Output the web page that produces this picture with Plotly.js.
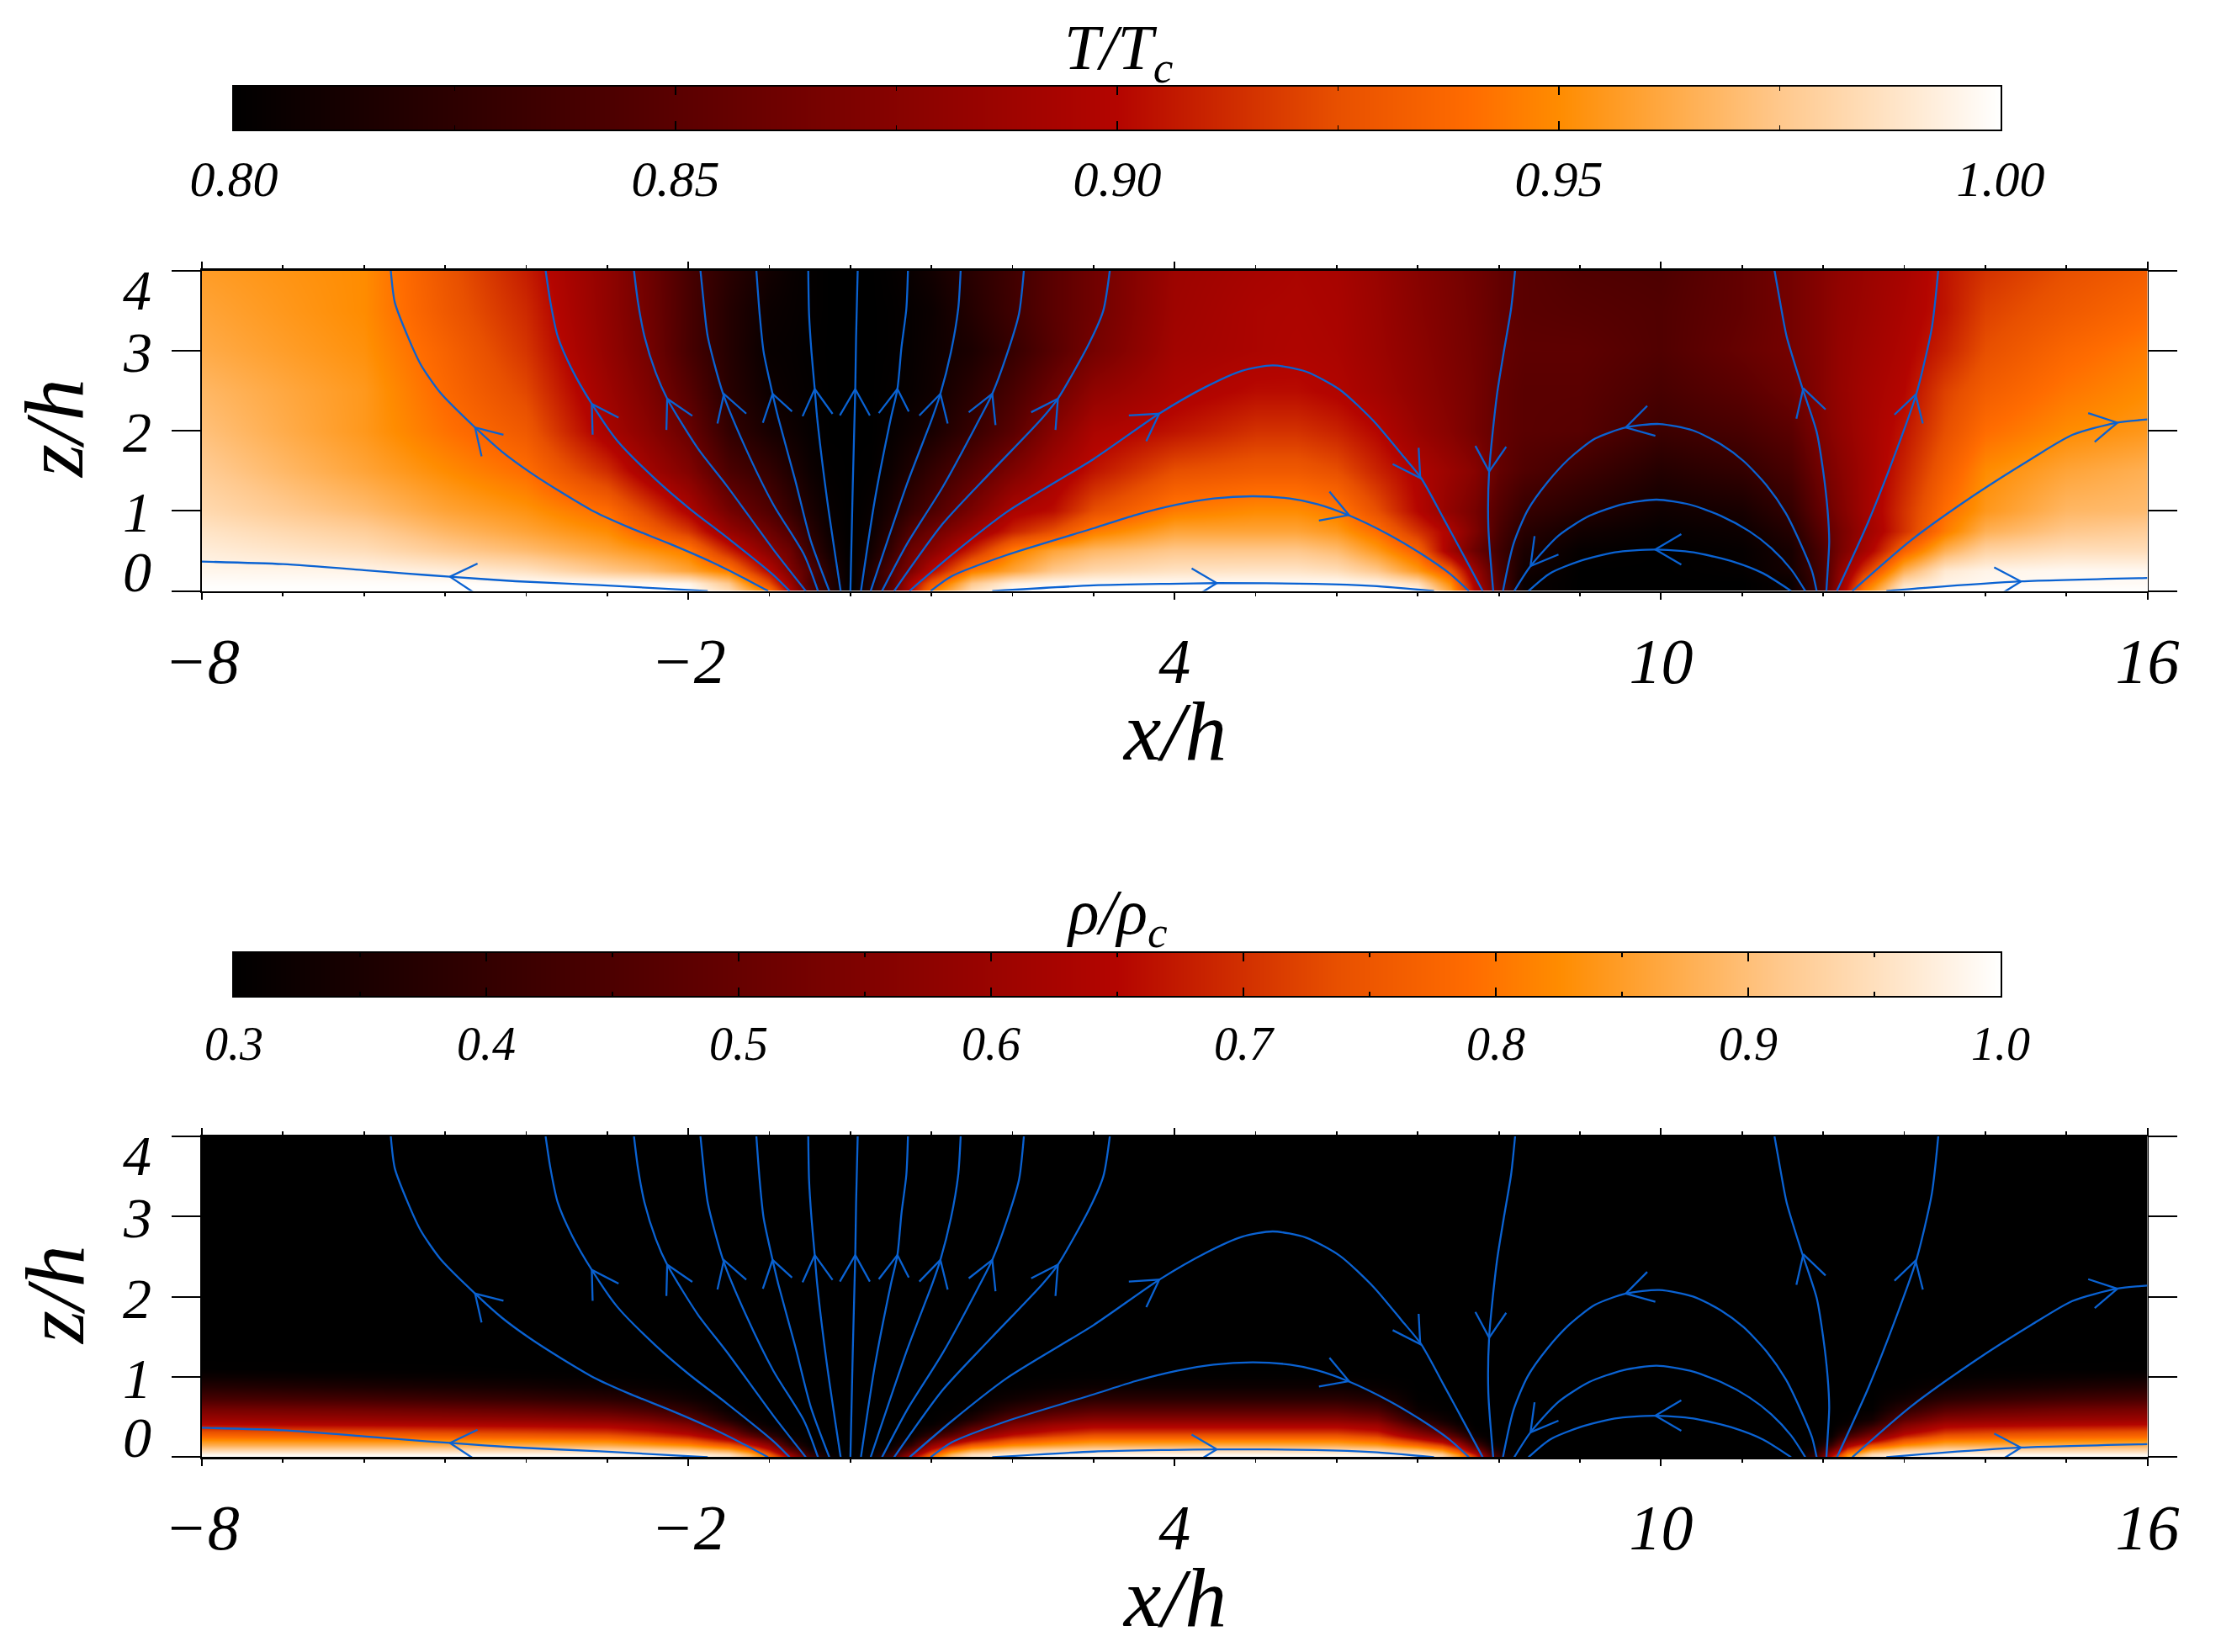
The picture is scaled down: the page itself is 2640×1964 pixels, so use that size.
<!DOCTYPE html>
<html><head><meta charset="utf-8">
<script src="https://cdn.plot.ly/plotly-3.0.1.min.js"></script>
<style>html,body{margin:0;padding:0;background:#fff}</style></head>
<body><div id="chart" style="width:2640px;height:1964px"></div>
<script>
// ---------- temperature field ----------
const xT=[-8,-6,-5,-4,-3,-2.5,-2,-1.5,-1,-.75,-.5,-.25,0,.25,.5,.75,1,1.5,2,2.5,3,4,5,5.5,6,6.5,7,7.4,7.7,8,8.3,9,10,11,11.6,12,12.2,12.5,13,13.5,14,15,16];
const zT=[0,.1,.25,.5,.75,1,1.5,2,2.5,3,3.5,4];
const tempRows=[
[1,1,1,1,1,1,1,.985,.945,.895,.845,.82,.80,.82,.85,.9,.945,.985,1,1,1,1,1,1,1,1,.998,.96,.90,.85,.805,.80,.80,.80,.805,.84,.885,.945,.995,1,1,1,1],
[.999,.999,.999,.999,.998,.997,.995,.975,.925,.885,.84,.82,.80,.818,.845,.895,.93,.975,.993,.997,.998,.998,.998,.998,.998,.995,.985,.95,.895,.845,.805,.80,.80,.80,.805,.84,.88,.935,.985,.995,.997,.998,.998],
[.996,.995,.992,.987,.975,.97,.96,.945,.90,.87,.845,.818,.80,.818,.845,.87,.90,.945,.96,.975,.982,.987,.988,.988,.985,.975,.955,.93,.885,.84,.81,.80,.80,.802,.812,.84,.875,.915,.965,.99,.995,.997,.997],
[.992,.985,.977,.97,.96,.953,.945,.91,.875,.86,.83,.81,.80,.81,.83,.86,.875,.91,.945,.96,.968,.975,.975,.975,.97,.955,.935,.89,.86,.835,.815,.803,.80,.803,.813,.843,.865,.89,.935,.965,.98,.985,.985],
[.988,.978,.968,.96,.95,.935,.917,.883,.86,.845,.822,.806,.80,.806,.822,.845,.86,.885,.91,.925,.945,.96,.96,.96,.955,.94,.915,.895,.87,.84,.822,.81,.803,.807,.82,.85,.865,.885,.915,.945,.965,.975,.978],
[.983,.97,.96,.953,.94,.92,.897,.865,.845,.83,.815,.804,.80,.804,.815,.83,.842,.868,.895,.903,.925,.945,.95,.95,.945,.925,.90,.88,.866,.845,.83,.82,.808,.813,.828,.857,.87,.888,.915,.94,.955,.968,.97],
[.977,.96,.95,.94,.913,.89,.872,.842,.828,.817,.807,.801,.80,.801,.807,.817,.828,.848,.87,.89,.905,.925,.93,.93,.925,.91,.897,.885,.875,.855,.845,.835,.82,.828,.84,.865,.875,.888,.91,.932,.95,.96,.965],
[.972,.955,.942,.93,.893,.877,.858,.828,.813,.808,.803,.80,.80,.80,.803,.808,.813,.83,.85,.875,.895,.905,.915,.915,.91,.90,.885,.875,.865,.855,.85,.848,.833,.84,.85,.872,.88,.89,.905,.925,.94,.95,.955],
[.968,.955,.938,.922,.887,.87,.848,.822,.807,.804,.802,.80,.80,.80,.802,.804,.808,.822,.84,.86,.88,.895,.902,.902,.898,.89,.88,.872,.865,.855,.85,.85,.84,.85,.86,.875,.882,.89,.90,.92,.932,.943,.95],
[.963,.952,.935,.916,.882,.865,.84,.82,.804,.803,.801,.80,.80,.80,.801,.803,.807,.815,.83,.848,.865,.89,.895,.897,.895,.887,.878,.87,.864,.856,.852,.852,.845,.857,.865,.875,.882,.888,.897,.91,.925,.937,.945],
[.96,.95,.93,.912,.88,.863,.84,.82,.806,.804,.802,.80,.80,.80,.801,.803,.806,.82,.835,.85,.862,.888,.895,.896,.894,.886,.876,.869,.863,.855,.85,.848,.845,.855,.865,.875,.881,.886,.895,.905,.92,.93,.938],
[.957,.95,.928,.908,.88,.862,.84,.823,.81,.805,.802,.80,.80,.80,.802,.805,.81,.823,.836,.85,.862,.887,.893,.895,.893,.885,.875,.868,.862,.855,.85,.845,.843,.855,.865,.875,.88,.885,.893,.905,.915,.925,.932]
];
// ---------- density field ----------
const xR=[-8,-6,-4,-3,-2.5,-2,-1.5,-1.25,-1,-.75,-.5,-.25,0,.25,.5,.75,1,1.25,1.5,2,2.5,3,6,6.5,7,7.3,7.5,7.7,7.9,8.1,8.3,11.7,11.9,12.1,12.3,12.6,13,13.5,14,15,16];
const zR=[0,.04,.1,.15,.2,.27,.33,.41,.48,.59,.73,.87,1,1.1,1.25,4];
const densRows=[
[1,1,1,1,1,.995,.97,.91,.80,.64,.44,.33,.30,.33,.44,.64,.80,.91,.97,.995,1,1,1,1,.99,.95,.86,.72,.5,.34,.3,.3,.42,.68,.86,.97,.995,1,1,1,1],
[.985,.985,.985,.985,.983,.975,.945,.88,.76,.58,.39,.31,.3,.31,.39,.58,.76,.88,.945,.975,.983,.985,.985,.983,.96,.92,.83,.67,.44,.32,.3,.3,.37,.62,.82,.94,.975,.985,.985,.985,.985],
[.925,.925,.927,.93,.92,.90,.85,.78,.66,.47,.33,.302,.3,.302,.33,.47,.66,.78,.85,.90,.92,.93,.93,.92,.875,.82,.72,.54,.365,.303,.3,.3,.325,.50,.71,.84,.90,.93,.927,.925,.925],
[.875,.875,.872,.87,.85,.825,.76,.68,.58,.39,.308,.3,.3,.3,.308,.39,.58,.68,.76,.825,.85,.87,.87,.85,.785,.72,.63,.45,.325,.3,.3,.3,.306,.41,.62,.74,.825,.87,.872,.875,.875],
[.835,.83,.825,.82,.795,.76,.67,.6,.5,.345,.301,.3,.3,.3,.301,.345,.5,.6,.67,.76,.795,.82,.82,.795,.70,.63,.54,.38,.306,.3,.3,.3,.3,.355,.53,.64,.76,.82,.825,.83,.835],
[.78,.77,.76,.75,.72,.675,.58,.49,.4,.312,.3,.3,.3,.3,.3,.312,.4,.49,.58,.675,.72,.75,.75,.72,.60,.53,.44,.325,.3,.3,.3,.3,.3,.315,.43,.55,.675,.75,.76,.77,.78],
[.73,.72,.705,.69,.66,.61,.51,.41,.345,.303,.3,.3,.3,.3,.3,.303,.345,.41,.51,.61,.66,.69,.69,.66,.53,.45,.37,.306,.3,.3,.3,.3,.3,.304,.365,.47,.61,.69,.705,.72,.73],
[.65,.64,.63,.62,.595,.54,.42,.345,.31,.3,.3,.3,.3,.3,.3,.3,.31,.345,.42,.54,.595,.62,.62,.595,.44,.37,.325,.3,.3,.3,.3,.3,.3,.3,.32,.385,.54,.62,.63,.64,.65],
[.60,.59,.575,.56,.53,.475,.36,.315,.302,.3,.3,.3,.3,.3,.3,.3,.302,.315,.36,.475,.53,.56,.56,.53,.375,.33,.306,.3,.3,.3,.3,.3,.3,.3,.305,.335,.475,.56,.575,.59,.60],
[.535,.52,.495,.47,.44,.39,.315,.303,.3,.3,.3,.3,.3,.3,.3,.3,.3,.303,.315,.39,.44,.47,.47,.44,.32,.305,.3,.3,.3,.3,.3,.3,.3,.3,.3,.305,.39,.47,.495,.52,.535],
[.44,.425,.40,.38,.36,.33,.302,.3,.3,.3,.3,.3,.3,.3,.3,.3,.3,.3,.302,.33,.36,.38,.38,.36,.303,.3,.3,.3,.3,.3,.3,.3,.3,.3,.3,.3,.33,.38,.40,.425,.44],
[.37,.355,.34,.325,.315,.305,.3,.3,.3,.3,.3,.3,.3,.3,.3,.3,.3,.3,.3,.305,.315,.325,.325,.315,.3,.3,.3,.3,.3,.3,.3,.3,.3,.3,.3,.3,.305,.325,.34,.355,.37],
[.325,.318,.31,.305,.302,.3,.3,.3,.3,.3,.3,.3,.3,.3,.3,.3,.3,.3,.3,.3,.302,.305,.305,.302,.3,.3,.3,.3,.3,.3,.3,.3,.3,.3,.3,.3,.3,.305,.31,.318,.325],
[.303,.302,.301,.3,.3,.3,.3,.3,.3,.3,.3,.3,.3,.3,.3,.3,.3,.3,.3,.3,.3,.3,.3,.3,.3,.3,.3,.3,.3,.3,.3,.3,.3,.3,.3,.3,.3,.3,.301,.302,.303],
[.3,.3,.3,.3,.3,.3,.3,.3,.3,.3,.3,.3,.3,.3,.3,.3,.3,.3,.3,.3,.3,.3,.3,.3,.3,.3,.3,.3,.3,.3,.3,.3,.3,.3,.3,.3,.3,.3,.3,.3,.3],
[.3,.3,.3,.3,.3,.3,.3,.3,.3,.3,.3,.3,.3,.3,.3,.3,.3,.3,.3,.3,.3,.3,.3,.3,.3,.3,.3,.3,.3,.3,.3,.3,.3,.3,.3,.3,.3,.3,.3,.3,.3]
];
// ---------- field lines (x/h, z/h) ----------
const lineX=[
[-8,-7,-6,-5.51,-4.94,-4.13,-3.09,-1.76],
[-5.67,-5.62,-5.46,-5.3,-5.06,-4.63,-4.3,-3.95,-3.57,-3.16,-2.74,-2.225,-1.71,-1.36,-1.015],
[-3.76,-3.7,-3.61,-3.43,-3.19,-2.88,-2.4,-1.98,-1.53,-.95,-.75],
[-2.67,-2.62,-2.54,-2.4,-2.26,-1.88,-1.53,-.95,-.55],
[-1.85,-1.81,-1.76,-1.57,-1.29,-.95,-.57,-.40],
[-1.16,-1.12,-1.07,-.96,-.89,-.68,-.49,-.26],
[-.52,-.51,-.48,-.44,-.41,-.29,-.12],
[.09,.07,.06,.03,0],
[.71,.69,.63,.58,.5,.3,.13],
[1.36,1.33,1.24,1.11,1.01,.7,.25],
[2.14,2.08,1.92,1.75,1.6,1.14,.7,.39],
[3.2,3.12,2.95,2.56,2.37,1.73,1.14,.54],
[.73,1.25,1.93,3.0,3.81,4.38,4.83,5.21,5.62,6.04,6.45,6.8,7.04,7.32,7.6,7.8],
[.99,1.25,1.93,3.0,3.515,4.03,4.48,4.97,5.42,5.76,6.14,6.63,7.04,7.39,7.63],
[1.75,3.0,3.93,4.52,5.73,6.45,7.2],
[8.2,8.15,8.06,7.975,7.88,7.87,7.93],
[8.05,8.18,8.355,8.6,8.87,9.185,9.565,9.98,10.395,10.74,11.02,11.3,11.54,11.74,11.865,11.92],
[8.19,8.39,8.735,9.115,9.53,9.945,10.36,10.74,11.09,11.36,11.605,11.78],
[8.365,8.63,9.01,9.43,9.91,10.4,10.91,11.26,11.605],
[11.4,11.47,11.55,11.74,11.92,12.0,12.055,12.075,12.055,12.04],
[13.42,13.34,13.15,12.91,12.56,12.17],
[12.36,13.08,13.87,14.57,15.08,15.62,16],
[12.78,13.26,14.44,16]
];
const lineZ=[
[.367,.335,.26,.22,.178,.122,.073,0],
[4,3.6,3.175,2.825,2.475,2.04,1.74,1.48,1.234,.99,.797,.587,.36,.185,0],
[4,3.6,3.175,2.755,2.335,1.88,1.39,1.024,.675,.2,0],
[4,3.6,3.175,2.72,2.4,1.776,1.32,.517,0],
[4,3.6,3.175,2.458,1.776,1.077,.45,0],
[4,3.46,2.98,2.46,2.16,1.38,.63,0],
[4,3.46,2.98,2.52,2.16,1.16,0],
[4,3.16,2.52,1.35,0],
[4,3.52,3.04,2.52,2.16,1.13,0],
[4,3.52,2.98,2.46,2.16,1.34,0],
[4,3.46,2.92,2.46,2.16,1.3,.59,0],
[4,3.5,3.1,2.4,2.16,1.48,.84,0],
[0,.45,.986,1.647,2.213,2.545,2.748,2.815,2.738,2.51,2.126,1.706,1.41,.9,.378,0],
[0,.185,.45,.783,.948,1.077,1.154,1.182,1.154,1.084,.948,.71,.465,.22,0],
[0,.07,.09,.098,.09,.063,0],
[4,3.52,2.98,2.44,1.5,.8,0],
[0,.587,1.007,1.357,1.654,1.9,2.04,2.084,2.003,1.83,1.62,1.32,.97,.55,.24,0],
[0,.31,.69,.937,1.084,1.14,1.077,.937,.745,.535,.27,0],
[0,.22,.378,.483,.517,.483,.36,.22,0],
[4,3.6,3.175,2.545,1.986,1.5,1.007,.62,.24,0],
[4,3.28,2.46,1.77,.87,0],
[0,.63,1.2,1.65,1.95,2.1,2.14],
[0,.04,.12,.163]
];
// ---------- arrow heads: barb, tip, barb ----------
const arrowX=[[-4.6,-4.94,-4.63],[-4.28,-4.63,-4.55],[-2.86,-3.19,-3.18],[-1.95,-2.26,-2.27],[-1.285,-1.56,-1.64],[-.72,-.96,-1.08],[-.22,-.44,-.59],[.24,.06,-.13],[.72,.58,.35],[1.2,1.11,.85],[1.79,1.75,1.46],[2.53,2.56,2.23],[3.435,3.81,3.65],[5.91,6.15,5.78],[4.21,4.52,4.24],[7.01,7.03,6.69],[7.71,7.88,8.09],[9.83,9.565,9.93],[8.44,8.39,8.735],[10.25,9.93,10.25],[11.67,11.755,12.03],[12.88,13.14,13.23],[15.27,15.63,15.35],[14.11,14.44,14.12]];
const arrowZ=[[.343,.178,-.03],[1.95,2.04,1.68],[2.164,2.335,1.95],[2.185,2.4,2.01],[2.213,2.458,2.09],[2.24,2.46,2.1],[2.21,2.52,2.18],[2.19,2.52,2.19],[2.24,2.52,2.22],[2.09,2.46,2.19],[2.07,2.46,2.23],[2.01,2.4,2.23],[2.19,2.213,1.87],[1.24,.948,.88],[.283,.098,-.077],[1.787,1.41,1.584],[1.81,1.49,1.8],[2.31,2.04,1.937],[.685,.31,.455],[.71,.517,.33],[2.15,2.53,2.266],[2.2,2.45,2.09],[2.22,2.1,1.86],[.295,.12,-.084]];
// ---------- colour bars and labels ----------
const tempBarValues=[.8,.85,.9,.95,1];
const densBarValues=[.3,.4,.5,.6,.7,.8,.9,1];
const barRows=[0,1];
const xTickVals=[-8,-2,4,10,16];
const xTickText=['\u22128','\u22122','4','10','16'];
const zTickVals=[0,1,2,3,4];
const zTickText=['0','1','2','3','4'];
const zLabelShift=[23,-2,-2,-2,-23]; // 0 and 4 sit inside the frame
const tempTicks=[.8,.85,.9,.95,1];
const tempTickText=['0.80','0.85','0.90','0.95','1.00'];
const densTicks=[.3,.4,.5,.6,.7,.8,.9,1];
const densTickText=['0.3','0.4','0.5','0.6','0.7','0.8','0.9','1.0'];

const W=2640,H=1964;
const colors=[[0,'#000000'],[.25,'#5a0000'],[.5,'#b40500'],[.625,'#e85000'],[.7,'#ff6c00'],[.75,'#ff8c00'],[.875,'#ffc88c'],[1,'#ffffff']];
const fam='"Liberation Serif", serif';
const itf=(size)=>({family:fam,size:size,color:'#000',style:'italic'});
const dx=(a,b)=>[a/W,b/W], dy=(top,bot)=>[1-bot/H,1-top/H];

const traces=[];
function hm(z,x,y,xa,ya,zmin,zmax){traces.push({type:'heatmap',x:x,y:y,z:z,xaxis:xa,yaxis:ya,colorscale:colors,zmin:zmin,zmax:zmax,zsmooth:'best',showscale:false,hoverinfo:'skip'});}
hm(tempRows,xT,zT,'x','y',.8,1);
hm(densRows,xR,zR,'x2','y2',.3,1);
hm(barRows.map(()=>tempBarValues),tempBarValues,barRows,'x3','y3',.8,1);
hm(barRows.map(()=>densBarValues),densBarValues,barRows,'x4','y4',.3,1);
[['x','y'],['x2','y2']].forEach(([xa,ya])=>{
  lineX.forEach((lx,i)=>traces.push({type:'scatter',mode:'lines',x:lx,y:lineZ[i],xaxis:xa,yaxis:ya,cliponaxis:false,hoverinfo:'skip',
    line:{color:'#0a62d2',width:2.3,shape:'spline',smoothing:.7}}));
  arrowX.forEach((ax,i)=>traces.push({type:'scatter',mode:'lines',x:ax,y:arrowZ[i],xaxis:xa,yaxis:ya,cliponaxis:false,hoverinfo:'skip',
    line:{color:'#0a62d2',width:2.3}}));
});

function mainX(anchor){return {domain:dx(240,2552.5),range:[-8,16],anchor:anchor,tickmode:'array',tickvals:xTickVals,ticktext:xTickText,
  ticks:'outside',ticklen:8,tickwidth:2,tickcolor:'#000',showline:true,linecolor:'#000',linewidth:2.4,mirror:'ticks',showgrid:false,zeroline:false,tickangle:0,
  tickfont:itf(76),ticklabelstandoff:8,minor:{ticks:'outside',ticklen:4,tickwidth:1.8,tickcolor:'#000',tick0:-8,dtick:1,showgrid:false}};}
function mainY(top,bot,anchor){return {domain:dy(top,bot),range:[0,4],anchor:anchor,tickmode:'array',tickvals:zTickVals,ticktext:zTickText,showticklabels:false,
  ticks:'outside',ticklen:34,tickwidth:2,tickcolor:'#000',showline:true,linecolor:'#000',linewidth:1.8,mirror:'ticks',showgrid:false,zeroline:false};}
function barX(anchor,vals,text,minorStep,lo,hi,size,standoff){return {domain:dx(278,2378),range:[lo,hi],anchor:anchor,tickmode:'array',tickvals:vals,ticktext:text,
  ticks:'inside',ticklen:10,tickwidth:1.8,tickcolor:'#000',showline:true,linecolor:'#000',linewidth:2.4,mirror:'ticks',showgrid:false,zeroline:false,tickangle:0,
  tickfont:itf(size),ticklabelstandoff:standoff,minor:{ticks:'inside',ticklen:5,tickwidth:1.6,tickcolor:'#000',tick0:lo,dtick:minorStep,showgrid:false}};}
function barY(top,bot,anchor){return {domain:dy(top,bot),range:[0,1],anchor:anchor,showticklabels:false,ticks:'',showline:true,linecolor:'#000',linewidth:2,mirror:true,showgrid:false,zeroline:false};}

const annotations=[];
function ann(text,xpx,ypx,size,angle){annotations.push({text:text,xref:'paper',yref:'paper',x:xpx/W,y:1-ypx/H,xanchor:'center',yanchor:'middle',textangle:angle||0,showarrow:false,font:itf(size)});}
ann('T/T<sub>c</sub>',1330,62,76);
ann('\u03c1/\u03c1<sub>c</sub>',1328,1090,76);
['y','y2'].forEach(ya=>zTickVals.forEach((v,i)=>annotations.push({text:zTickText[i],xref:'paper',yref:ya,x:163/W,y:v,yshift:zLabelShift[i],xanchor:'center',yanchor:'middle',showarrow:false,font:itf(68)})));
ann('z/h',65,510,100,-90);
ann('z/h',65,1540,100,-90);
ann('x/h',1396,869,100);
ann('x/h',1396,1899,100);

const layout={width:W,height:H,margin:{l:0,r:0,t:0,b:0},paper_bgcolor:'#fff',plot_bgcolor:'#fff',showlegend:false,hovermode:false,
  xaxis:mainX('y'),yaxis:mainY(321.5,702.6,'x'),
  xaxis2:mainX('y2'),yaxis2:mainY(1351,1732.4,'x2'),
  xaxis3:barX('y3',tempTicks,tempTickText,.025,.8,1,60,5),yaxis3:barY(103,154,'x3'),
  xaxis4:barX('y4',densTicks,densTickText,.05,.3,1,56,6),yaxis4:barY(1133,1184,'x4'),
  annotations:annotations};
Plotly.newPlot('chart',traces,layout,{staticPlot:true,displayModeBar:false});
</script></body></html>
